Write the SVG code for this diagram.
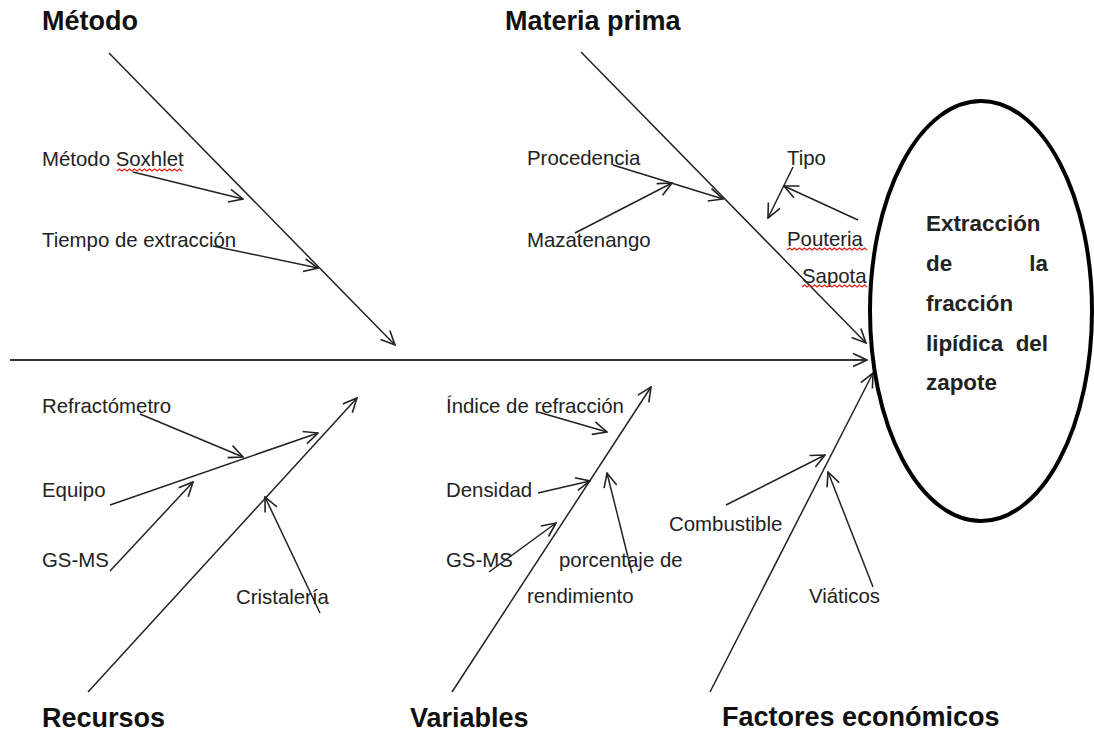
<svg xmlns="http://www.w3.org/2000/svg" width="1094" height="735" viewBox="0 0 1094 735">
<style>
.t{font-family:"Liberation Sans",Arial,sans-serif;font-size:20.4px;fill:#222}
.h{font-family:"Liberation Sans",Arial,sans-serif;font-size:27px;font-weight:bold;fill:#111}
.c{font-family:"Liberation Sans",Arial,sans-serif;font-size:22.4px;font-weight:bold;fill:#222}
.l{stroke:#222;stroke-width:1.5;fill:none;marker-end:url(#a)}
.w{stroke:#e0201a;stroke-width:1.2;fill:none}
</style>
<defs>
<marker id="a" viewBox="0 0 16 16" refX="15" refY="8" markerWidth="16" markerHeight="16" markerUnits="userSpaceOnUse" orient="auto">
<path d="M1,1.5 L15,8 L1,14.5" fill="none" stroke="#222" stroke-width="1.6"/>
</marker>
</defs>
<rect width="1094" height="735" fill="#fff"/>
<g id="connectors">
<line x1="10" y1="360" x2="867" y2="360" stroke="#333" stroke-width="2.2" fill="none" marker-end="url(#a)"/>
<line class="l" x1="109" y1="53" x2="395" y2="345"/>
<line class="l" x1="133" y1="172" x2="243" y2="199"/>
<line class="l" x1="213" y1="246" x2="318" y2="268"/>
<line class="l" x1="581" y1="52" x2="866" y2="343"/>
<line class="l" x1="613" y1="165" x2="723" y2="199"/>
<line class="l" x1="575" y1="233" x2="672" y2="183"/>
<line class="l" x1="793" y1="167" x2="768" y2="218"/>
<line class="l" x1="858" y1="220" x2="784" y2="186"/>
<line class="l" x1="88" y1="692" x2="357" y2="398"/>
<line class="l" x1="140" y1="414" x2="243" y2="457"/>
<line class="l" x1="110" y1="505" x2="318" y2="433"/>
<line class="l" x1="110" y1="571" x2="193" y2="482"/>
<line class="l" x1="320" y1="613" x2="265" y2="497"/>
<line class="l" x1="452" y1="692" x2="651" y2="387"/>
<line class="l" x1="538" y1="412" x2="607" y2="432"/>
<line class="l" x1="538" y1="493" x2="590" y2="481"/>
<line class="l" x1="489" y1="572" x2="556" y2="523"/>
<line class="l" x1="632" y1="573" x2="607" y2="473"/>
<line class="l" x1="710" y1="692" x2="873" y2="373"/>
<line class="l" x1="726" y1="505" x2="825" y2="455"/>
<line class="l" x1="873" y1="587" x2="828" y2="472"/>
</g>
<g id="effect">
<ellipse cx="981" cy="311" rx="111" ry="210" fill="none" stroke="#000" stroke-width="4"/>
<text class="c" x="926" y="231">Extracción</text>
<text class="c" x="926" y="271">de</text>
<text class="c" x="1048" y="271" text-anchor="end">la</text>
<text class="c" x="926" y="311">fracción</text>
<text class="c" x="926" y="351">lipídica</text>
<text class="c" x="1048" y="351" text-anchor="end">del</text>
<text class="c" x="926" y="390">zapote</text>
</g>
<g id="metodo">
<text class="h" x="42" y="30">Método</text>
<text class="t" x="42" y="166">Método Soxhlet</text>
<path class="w" d="M117,171 l2.5,-2 l2.5,2 l2.5,-2 l2.5,2 l2.5,-2 l2.5,2 l2.5,-2 l2.5,2 l2.5,-2 l2.5,2 l2.5,-2 l2.5,2 l2.5,-2 l2.5,2 l2.5,-2 l2.5,2 l2.5,-2 l2.5,2 l2.5,-2 l2.5,2 l2.5,-2 l2.5,2 l2.5,-2 l2.5,2 l2.5,-2 l2.5,2"/>
<text class="t" x="42" y="247">Tiempo de extracción</text>
</g>
<g id="materia">
<text class="h" x="505" y="30">Materia prima</text>
<text class="t" x="527" y="165">Procedencia</text>
<text class="t" x="527" y="247">Mazatenango</text>
<text class="t" x="787" y="165">Tipo</text>
<text class="t" x="787" y="246">Pouteria</text>
<path class="w" d="M787,250 l2.5,-2 l2.5,2 l2.5,-2 l2.5,2 l2.5,-2 l2.5,2 l2.5,-2 l2.5,2 l2.5,-2 l2.5,2 l2.5,-2 l2.5,2 l2.5,-2 l2.5,2 l2.5,-2 l2.5,2 l2.5,-2 l2.5,2 l2.5,-2 l2.5,2 l2.5,-2 l2.5,2 l2.5,-2 l2.5,2 l2.5,-2 l2.5,2 l2.5,-2 l2.5,2 l2.5,-2 l2.5,2 l2.5,-2 l2.5,2"/>
<text class="t" x="802" y="283">Sapota</text>
<path class="w" d="M802,287 l2.5,-2 l2.5,2 l2.5,-2 l2.5,2 l2.5,-2 l2.5,2 l2.5,-2 l2.5,2 l2.5,-2 l2.5,2 l2.5,-2 l2.5,2 l2.5,-2 l2.5,2 l2.5,-2 l2.5,2 l2.5,-2 l2.5,2 l2.5,-2 l2.5,2 l2.5,-2 l2.5,2 l2.5,-2 l2.5,2 l2.5,-2 l2.5,2"/>
</g>
<g id="recursos">
<text class="h" x="42" y="727">Recursos</text>
<text class="t" x="42" y="413">Refractómetro</text>
<text class="t" x="42" y="497">Equipo</text>
<text class="t" x="42" y="567">GS-MS</text>
<text class="t" x="236" y="604">Cristalería</text>
</g>
<g id="variables">
<text class="h" x="410" y="727">Variables</text>
<text class="t" x="446" y="413">Índice de refracción</text>
<text class="t" x="446" y="497">Densidad</text>
<text class="t" x="446" y="567">GS-MS</text>
<text class="t" x="559" y="567">porcentaje de</text>
<text class="t" x="527" y="603">rendimiento</text>
</g>
<g id="factores">
<text class="h" x="722" y="726">Factores económicos</text>
<text class="t" x="669" y="531">Combustible</text>
<text class="t" x="809" y="603">Viáticos</text>
</g>
</svg>
